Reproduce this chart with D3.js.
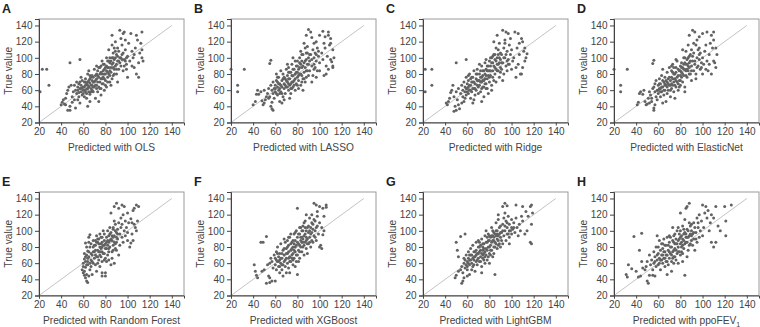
<!DOCTYPE html>
<html>
<head>
<meta charset="utf-8">
<script src="https://cdn.jsdelivr.net/npm/d3@7"></script>
<style>
  body { margin: 0; background: #fff; }
  svg { display: block; font-family: "Liberation Sans", Arial, sans-serif; }
</style>
</head>
<body>
<div id="chart"></div>
<script>
// [predicted, true] pairs
const olsPoints = [
  [21,58],[23,86],[27,86],[29,66],[48,94],[57,98],
  [40,42],[41,45],[42,48],[43,43],[44,50],[45,56],[46,60],[46,35],[48,35],[48,40],[47,64],[49,66],[50,52],[50,45],[44,42],[51,58],
  [52,48],[53,38],[54,56],[55,60],[56,52],[57,62],[58,58],[58,66],[59,54],[56,68],[60,60],[55,48],[57,44],[59,72],[53,60],[52,66],[58,76],[54,70],[56,57],[59,63],[57,70],[55,64],
  [60,56],[61,64],[62,58],[63,68],[64,40],[64,62],[65,72],[66,55],[67,66],[68,60],[68,78],[69,70],[62,74],[63,50],[65,84],[66,46],[67,76],[69,58],[61,70],[70,64],[70,86],[64,80],[62,66],[63,61],[65,58],[66,69],[67,62],[68,72],[69,64],[61,52],[64,70],[66,78],
  [71,72],[72,66],[72,80],[73,58],[74,76],[75,70],[75,88],[76,62],[76,82],[77,74],[78,68],[78,92],[79,80],[80,72],[71,50],[73,84],[74,46],[77,96],[79,60],[80,88],[72,90],[76,54],[71,78],[73,70],[74,64],[75,80],[77,68],[78,76],[79,86],[80,66],[72,74],[76,74],
  [81,84],[82,76],[82,96],[83,88],[84,70],[84,100],[85,82],[86,92],[86,128],[87,78],[87,106],[88,86],[88,98],[89,120],[89,90],[90,80],[81,64],[83,110],[85,66],[88,112],[90,104],[84,94],[86,116],[81,100],[82,88],[83,80],[85,96],[87,88],[89,100],[90,92],[84,84],[86,74],
  [91,96],[92,86],[92,108],[93,134],[93,100],[94,90],[95,116],[95,104],[96,130],[96,84],[97,98],[98,110],[98,122],[99,92],[100,102],[100,76],[91,70],[94,124],[97,132],[99,86],[92,96],[94,100],[96,106],[98,96],[91,112],
  [101,118],[102,96],[103,130],[104,108],[105,100],[106,88],[107,112],[108,80],[108,128],[109,122],[110,94],[110,76],[111,106],[112,118],[113,100],[113,110],[114,96],[113,132],[104,90],[106,104],
  [60,64],[62,70],[63,56],[65,64],[67,58],[69,76],[70,70],[71,66],[73,78],[74,88],[75,62],[77,80],[78,84],[79,74],[80,80],[81,90],[82,70],[83,96],[84,78],[85,88],[86,100],[87,94],[88,80],[89,108],[90,86],[91,102],[93,94],[95,98],[97,90],[99,100],[58,62],[61,60],[64,66],[66,74],[68,66],[72,62],[76,90],[79,92],[82,82],[87,100]
];
const lassoPoints = [
  [20,86],[26,58],[26,66],[32,86],[55,93],[56,97],[56,40],[57,37],[58,35],[57,45],
  [40,42],[42,46],[43,55],[44,60],[45,55],[47,58],[48,47],[49,42],[50,44],[52,52],[50,60],[53,56],[54,50],[51,48],[54,62],[55,52],
  [56,66],[57,60],[58,56],[58,70],[59,62],[59,50],[60,58],[60,66],[61,72],[62,54],[62,64],[63,60],[63,76],[64,68],[64,46],[65,58],[65,84],[66,64],[66,72],[67,52],[67,80],[68,62],[68,68],[69,74],[69,56],[70,64],[70,86],[61,80],[62,70],[64,56],[66,44],[68,48],
  [71,70],[71,78],[72,60],[72,88],[73,66],[73,74],[74,82],[74,56],[75,70],[75,92],[76,64],[76,78],[77,86],[77,72],[78,60],[78,96],[79,68],[79,82],[80,76],[80,90],[71,92],[73,50],[75,62],[76,100],[78,74],[80,66],[72,82],[74,68],
  [81,86],[81,72],[82,100],[82,80],[83,92],[83,66],[84,78],[84,88],[85,104],[85,74],[86,94],[86,82],[87,112],[87,88],[88,128],[88,98],[89,84],[89,106],[90,135],[90,92],[81,62],[83,108],[85,60],[86,118],[88,76],[90,100],[82,94],[84,96],[87,70],[89,114],
  [91,96],[91,84],[92,132],[92,104],[93,125],[93,90],[94,110],[94,78],[95,100],[95,118],[96,88],[96,106],[97,120],[97,96],[98,112],[98,84],[99,102],[100,128],[100,84],[100,94],[93,70],[95,86],[97,76],[99,108],
  [102,106],[103,133],[103,98],[104,78],[105,126],[105,112],[106,90],[107,102],[108,132],[108,128],[108,86],[109,116],[110,124],[110,118],[110,98],[111,95],[112,110],[112,90],[113,100],[112,88],[106,80],[104,118],
  [60,62],[61,56],[63,68],[65,66],[66,56],[67,74],[69,66],[70,72],[71,64],[72,74],[73,82],[74,62],[75,78],[76,86],[77,66],[78,80],[79,90],[80,82],[81,78],[82,88],[83,80],[84,104],[85,90],[86,74],[87,96],[88,84],[89,92],[90,78],[91,104],[93,98],[95,92],[97,104],[62,76],[64,62],[68,76],[72,68],[76,70],[80,96],[84,70],[88,106]
];
const ridgePoints = [
  [22,86],[28,86],[22,58],[28,66],[50,94],[59,98],
  [41,44],[42,42],[43,46],[44,50],[45,57],[46,60],[48,34],[50,35],[49,40],[52,42],[53,37],[55,44],[47,66],[48,52],[50,58],[51,48],[52,62],[54,56],
  [55,66],[56,52],[56,60],[57,70],[57,46],[58,58],[58,64],[59,76],[59,54],[60,62],[60,68],[61,56],[61,72],[62,60],[62,80],[63,66],[63,50],[64,70],[64,58],[65,76],[65,44],[66,62],[66,84],[67,68],[67,54],[68,74],[68,60],[69,66],[69,86],[70,72],[70,56],[61,64],[63,74],[66,48],[68,80],[58,50],
  [71,66],[71,80],[72,70],[72,58],[73,90],[73,76],[74,64],[74,84],[75,72],[75,52],[76,80],[76,94],[77,68],[77,86],[78,74],[78,62],[79,90],[79,78],[80,70],[80,84],[71,92],[73,46],[75,64],[77,98],[79,56],[72,76],[74,72],[76,68],[78,84],[80,96],
  [81,78],[81,90],[82,100],[82,66],[83,84],[83,94],[84,72],[84,104],[85,88],[85,80],[86,96],[86,112],[87,128],[87,84],[88,92],[88,104],[89,76],[89,118],[90,88],[90,98],[82,60],[84,120],[86,70],[88,110],[90,82],[81,100],[85,98],[87,92],[89,94],
  [91,104],[91,86],[92,134],[92,94],[93,112],[93,80],[94,100],[94,122],[95,132],[95,90],[96,108],[96,84],[97,130],[97,98],[98,116],[98,92],[99,104],[100,86],[100,110],[92,72],[94,118],[96,96],[99,124],
  [101,96],[102,100],[103,132],[104,88],[105,112],[106,130],[106,92],[107,104],[108,80],[109,124],[110,120],[110,88],[111,108],[112,112],[112,96],[113,100],[114,105],[109,80],[104,76],[107,118],
  [59,62],[60,58],[62,66],[63,60],[64,76],[65,62],[66,70],[67,62],[69,72],[70,64],[71,72],[72,84],[73,62],[74,78],[75,84],[76,74],[77,78],[78,90],[79,84],[80,76],[81,84],[82,94],[83,76],[84,90],[85,104],[86,86],[87,100],[88,84],[89,100],[90,106],[91,94],[93,100],[95,104],[97,92],[61,78],[65,70],[69,80],[73,70],[77,62],[83,102]
];
const elasticPoints = [
  [20,86],[26,58],[26,66],[32,86],[55,93],[56,97],[56,38],[56,35],[57,42],
  [41,42],[42,45],[43,56],[44,58],[46,55],[47,60],[48,46],[49,42],[50,43],[51,50],[52,58],[53,54],[54,50],[55,62],[54,46],[52,44],
  [56,64],[57,58],[57,68],[58,52],[58,72],[59,60],[59,48],[60,66],[60,56],[61,74],[61,62],[62,52],[62,68],[63,78],[63,58],[64,64],[64,86],[65,70],[65,54],[66,60],[66,76],[67,66],[67,46],[68,82],[68,70],[69,60],[69,74],[70,66],[70,88],[62,62],[64,44],[66,68],[68,56],
  [71,72],[71,60],[72,84],[72,76],[73,66],[73,92],[74,70],[74,58],[75,80],[75,74],[76,64],[76,88],[77,96],[77,70],[78,78],[78,60],[79,84],[79,72],[80,90],[80,66],[71,52],[73,82],[75,50],[76,98],[78,68],[80,78],[72,68],[74,88],
  [81,82],[81,94],[82,70],[82,88],[83,100],[83,78],[84,86],[84,64],[85,108],[85,92],[86,76],[86,98],[87,84],[87,116],[88,128],[88,94],[89,80],[89,104],[90,90],[90,72],[82,110],[84,58],[86,86],[88,102],[90,110],[81,76],[83,92],[85,84],[87,100],
  [91,134],[91,96],[92,84],[92,106],[93,132],[93,92],[94,116],[94,80],[95,100],[95,122],[96,90],[96,110],[97,126],[97,98],[98,86],[98,106],[99,94],[100,130],[100,100],[100,80],[92,118],[94,74],[97,112],[99,88],
  [101,92],[102,108],[103,116],[104,132],[104,96],[105,84],[106,104],[107,118],[108,128],[108,80],[109,112],[110,132],[110,122],[110,96],[111,94],[112,112],[112,88],[113,104],[106,92],[103,86],
  [60,60],[61,68],[63,64],[65,60],[66,66],[67,72],[69,68],[70,76],[71,66],[72,62],[73,74],[74,80],[75,66],[76,82],[77,76],[78,86],[79,64],[80,84],[81,88],[82,80],[83,86],[84,94],[85,78],[86,92],[87,90],[88,80],[89,96],[90,84],[91,102],[93,96],[95,88],[97,104],[62,58],[64,72],[68,64],[72,90],[76,72],[80,72],[84,100],[88,88]
];
const rfPoints = [
  [59,52],[60,48],[61,45],[62,42],[63,38],[64,36],[62,55],[60,60],[61,65],[63,70],[64,75],[65,92],[66,95],[62,85],[60,56],[61,50],[62,62],[63,46],[64,58],[65,68],[66,52],[67,72],[68,62],[69,80],[70,66],[65,44],[67,56],[69,88],[63,80],[66,60],[68,46],[70,74],[64,66],[61,72],
  [71,58],[71,82],[72,68],[72,50],[73,76],[73,90],[74,64],[74,84],[75,70],[75,56],[76,78],[76,92],[77,62],[77,86],[77,48],[77,44],[79,72],[79,96],[80,48],[80,44],[80,66],[80,84],[71,70],[73,60],[75,80],[77,74],[79,64],[72,94],[74,74],[76,68],[78,82],[78,100],
  [81,78],[81,92],[82,70],[82,100],[83,86],[83,64],[84,80],[84,96],[85,122],[85,58],[86,88],[86,74],[87,102],[87,82],[88,60],[88,94],[89,78],[89,108],[90,86],[90,98],[81,62],[82,88],[84,104],[86,66],[88,112],[90,76],[83,74],[85,90],[87,92],[89,84],
  [88,130],[90,134],[92,128],[95,132],[97,130],[96,120],[94,116],[91,102],[91,90],[92,70],[92,110],[93,96],[93,82],[94,104],[95,92],[95,108],[96,86],[97,100],[98,112],[98,94],[99,104],[100,122],[100,88],[100,98],
  [101,110],[102,80],[103,115],[103,85],[104,110],[104,96],[105,125],[105,88],[106,108],[106,128],[108,132],[108,100],[110,130],[109,112],[107,104],
  [62,68],[63,58],[64,62],[65,74],[66,80],[67,64],[68,70],[69,60],[70,82],[71,76],[72,86],[73,68],[74,90],[75,74],[76,84],[77,80],[78,72],[79,88],[80,78],[81,86],[82,82],[83,94],[84,88],[85,98],[86,94],[87,76],[88,86],[89,100],[90,92],[91,96],[65,86],[67,84],[69,74],[71,88],[73,86],[75,96],[77,92],[79,82],[83,78],[87,104]
];
const xgbPoints = [
  [41,58],[42,50],[43,45],[44,42],[47,86],[49,86],[52,93],[52,35],[55,36],[57,38],[60,38],[54,44],[55,42],[48,50],[50,52],[53,58],[55,60],[56,66],[57,62],[58,54],
  [59,70],[60,58],[60,66],[61,74],[61,52],[62,62],[62,80],[63,56],[63,68],[64,48],[64,72],[65,60],[65,84],[66,66],[66,52],[67,76],[67,44],[68,62],[68,70],[69,56],[69,86],[70,66],[70,78],[70,48],[62,72],[64,64],[66,58],[68,90],
  [71,60],[71,72],[72,82],[72,54],[73,68],[73,92],[74,76],[74,62],[75,86],[75,70],[76,58],[76,80],[77,96],[77,66],[78,74],[78,88],[79,62],[79,82],[80,128],[80,70],[80,92],[80,46],[71,88],[73,48],[75,78],[77,84],[79,100],[72,66],[74,96],[76,72],[78,56],
  [81,84],[81,76],[82,96],[82,66],[83,88],[83,104],[84,74],[84,92],[85,80],[85,100],[86,110],[86,70],[87,86],[87,96],[88,120],[88,78],[89,104],[89,90],[90,84],[90,98],[81,62],[83,80],[85,90],[87,112],[89,72],[82,104],[84,86],[86,94],[88,100],
  [91,92],[91,116],[92,104],[92,80],[93,98],[93,120],[94,86],[94,108],[95,134],[95,94],[96,112],[96,100],[97,132],[97,88],[98,106],[98,118],[99,96],[100,130],[100,110],[100,80],[91,100],[93,88],[95,114],[97,104],
  [101,82],[102,78],[103,128],[103,95],[104,100],[104,118],[106,132],[106,129],[102,104],[98,124],
  [63,62],[65,66],[66,72],[67,58],[69,64],[70,72],[71,80],[72,74],[73,62],[74,84],[75,66],[76,88],[77,76],[78,80],[79,70],[80,86],[81,96],[82,82],[83,92],[84,100],[85,86],[86,82],[87,104],[88,92],[89,84],[90,106],[91,86],[92,96],[94,102],[96,92],[61,64],[64,56],[68,78],[72,92],[76,64],[78,98],[82,74],[85,106],[88,88],[93,110]
];
const lgbmPoints = [
  [49,42],[50,45],[50,86],[51,76],[52,68],[54,93],[58,96],[55,35],[56,38],[57,42],[52,50],[54,52],[55,56],[56,48],[57,60],[58,54],
  [58,64],[59,58],[59,70],[60,62],[60,52],[61,66],[61,74],[62,58],[62,46],[63,64],[63,78],[64,60],[64,70],[65,56],[65,82],[66,64],[66,74],[67,50],[67,68],[68,62],[68,86],[69,72],[69,58],[70,66],[70,80],[60,44],[62,70],[64,52],[66,58],[68,76],[70,88],
  [71,62],[71,74],[72,82],[72,68],[73,56],[73,90],[74,76],[74,66],[75,84],[75,72],[76,60],[76,94],[77,78],[77,70],[78,86],[78,64],[79,80],[79,96],[80,72],[80,88],[71,86],[73,48],[75,64],[77,100],[79,68],[72,76],[74,84],[76,74],[78,92],[80,60],
  [81,82],[81,92],[82,76],[82,104],[83,88],[83,68],[84,98],[84,80],[85,86],[85,46],[86,94],[86,110],[87,78],[87,100],[88,88],[88,120],[89,84],[89,96],[90,106],[90,92],[82,94],[84,72],[86,84],[88,114],[90,80],[81,70],[83,100],[85,96],[87,90],
  [91,98],[91,88],[92,130],[92,108],[93,94],[93,116],[94,134],[94,100],[95,88],[95,112],[96,131],[96,104],[97,96],[97,118],[98,92],[98,108],[99,100],[100,114],[100,96],[100,104],[92,84],[94,122],[96,96],[98,84],
  [101,102],[102,110],[103,98],[104,132],[104,116],[105,104],[106,94],[107,108],[108,100],[110,130],[110,112],[112,96],[113,124],[115,118],[117,130],[118,132],[119,122],[118,108],[117,86],[118,84],[109,118],[114,100],
  [60,56],[61,60],[63,70],[65,66],[66,68],[67,74],[69,64],[70,72],[71,80],[72,62],[73,72],[74,80],[75,78],[76,68],[77,86],[78,76],[79,88],[80,80],[81,76],[82,86],[83,94],[84,88],[85,80],[86,100],[87,96],[88,94],[89,104],[90,98],[92,100],[94,106],[96,110],[98,100],[102,104],[57,66],[62,64],[68,70],[74,70],[80,94],[84,92],[88,82]
];
const ppoPoints = [
  [31,46],[32,43],[33,58],[36,53],[38,93],[40,50],[42,43],[43,76],[45,97],[45,62],[48,52],[50,38],[51,35],[52,45],[55,45],[57,44],[44,44],[46,54],[49,56],[50,62],[52,70],[53,58],[54,64],[55,52],
  [56,74],[56,60],[57,68],[58,56],[58,80],[59,64],[59,94],[60,72],[60,58],[61,88],[61,66],[62,76],[62,52],[63,70],[63,84],[64,60],[64,78],[65,90],[65,66],[66,74],[66,56],[67,82],[67,62],[68,70],[68,92],[69,76],[69,58],[70,66],[70,86],[68,46],[62,64],[64,70],[66,82],
  [71,72],[71,92],[72,80],[72,62],[73,104],[73,74],[74,68],[74,86],[75,78],[75,96],[76,64],[76,84],[77,72],[77,100],[78,80],[78,60],[79,90],[79,74],[80,122],[80,84],[80,70],[72,50],[74,94],[76,76],[78,88],[80,100],[73,66],[75,84],
  [81,80],[81,94],[82,106],[82,72],[83,88],[83,78],[84,98],[84,45],[85,128],[85,86],[86,130],[86,102],[87,92],[87,76],[88,134],[88,110],[89,84],[89,96],[90,100],[90,88],[82,62],[84,114],[86,68],[88,94],[90,108],[81,86],[83,96],[85,92],
  [91,96],[91,82],[92,110],[92,90],[93,104],[93,76],[94,98],[95,116],[95,86],[96,104],[97,92],[97,120],[98,100],[99,112],[100,132],[100,94],[101,104],[102,122],[103,130],[104,116],[105,125],[106,100],[107,110],[108,120],[108,86],[110,116],[110,80],[112,130],[112,86],[114,106],[116,100],[120,130],[121,112],[121,94],[126,132],
  [57,62],[59,70],[61,60],[63,64],[65,74],[66,66],[67,70],[69,82],[70,74],[71,80],[72,70],[73,88],[74,76],[75,68],[76,90],[77,84],[78,74],[79,96],[80,92],[81,74],[82,90],[83,102],[84,84],[85,96],[86,86],[87,100],[88,82],[89,106],[90,94],[92,98],[94,90],[96,110],[60,80],[64,84],[68,62],[70,94],[74,60],[78,104],[82,82],[86,92]
];

const panels = [
  { letter: 'A', method: 'OLS', points: olsPoints },
  { letter: 'B', method: 'LASSO', points: lassoPoints },
  { letter: 'C', method: 'Ridge', points: ridgePoints },
  { letter: 'D', method: 'ElasticNet', points: elasticPoints },
  { letter: 'E', method: 'Random Forest', points: rfPoints },
  { letter: 'F', method: 'XGBoost', points: xgbPoints },
  { letter: 'G', method: 'LightGBM', points: lgbmPoints },
  { letter: 'H', method: 'ppoFEV', sub: '1', points: ppoPoints },
];
const tickValues = [20, 40, 60, 80, 100, 120, 140];

const lefts = [39, 231, 423, 614], tops = [19, 192];
const w = 145, h = 103.5;

const svg = d3.select('#chart').append('svg')
  .attr('width', 760).attr('height', 327);

const x = d3.scaleLinear().domain([20, 151]).range([0, w]);
const y = d3.scaleLinear().domain([20, 148]).range([h, 0]);

panels.forEach((p, i) => {
  const g = svg.append('g')
    .attr('transform', `translate(${lefts[i % 4]},${tops[Math.floor(i / 4)]})`);

  // light frame on top/right
  g.append('rect').attr('width', w).attr('height', h)
    .attr('fill', 'none').attr('stroke', '#9a9a9a').attr('stroke-width', 1);

  // identity line
  g.append('line')
    .attr('x1', x(20)).attr('y1', y(20)).attr('x2', x(140)).attr('y2', y(140))
    .attr('stroke', '#b4b4b4').attr('stroke-width', 0.8);

  g.selectAll('circle').data(p.points).enter().append('circle')
    .attr('cx', d => x(d[0])).attr('cy', d => y(d[1]))
    .attr('r', 1.5).attr('fill', '#626262');

  g.append('g').attr('transform', `translate(0,${h})`)
    .call(d3.axisBottom(x).tickValues(tickValues).tickSize(3).tickPadding(2.5))
    .call(sel => sel.select('.domain').attr('stroke', '#444'))
    .call(sel => sel.selectAll('line').attr('stroke', '#444'))
    .call(sel => sel.selectAll('text').attr('fill', '#444').attr('font-size', 10).attr('font-family', null));

  g.append('g')
    .call(d3.axisLeft(y).tickValues(tickValues).tickSize(4).tickPadding(2.5))
    .call(sel => sel.select('.domain').attr('stroke', '#444'))
    .call(sel => sel.selectAll('line').attr('stroke', '#444'))
    .call(sel => sel.selectAll('text').attr('fill', '#444').attr('font-size', 10).attr('font-family', null));

  const xl = g.append('text')
    .attr('x', w / 2).attr('y', h + 28.5)
    .attr('text-anchor', 'middle').attr('fill', '#444').attr('font-size', 10.2)
    .text('Predicted with ' + p.method);
  if (p.sub) xl.append('tspan').attr('font-size', 7).attr('dy', 2.5).text(p.sub);

  g.append('text')
    .attr('transform', `translate(-27,${h / 2}) rotate(-90)`)
    .attr('text-anchor', 'middle').attr('fill', '#444').attr('font-size', 10.2)
    .text('True value');

  g.append('text')
    .attr('x', -37).attr('y', -6.3)
    .attr('fill', '#222').attr('font-size', 12.5).attr('font-weight', 'bold')
    .text(p.letter);
});
</script>
</body>
</html>
